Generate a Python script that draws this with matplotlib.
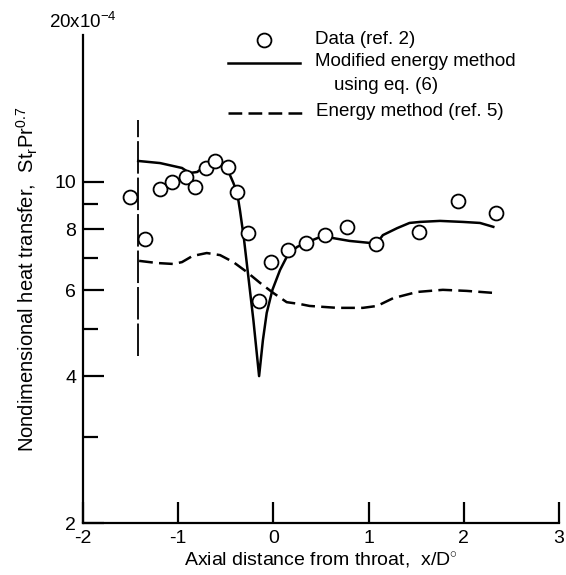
import matplotlib
matplotlib.use("Agg")
import matplotlib.pyplot as plt
from matplotlib.lines import Line2D

plt.rcParams['font.family'] = ['Liberation Sans', 'DejaVu Sans']
plt.rcParams['mathtext.fontset'] = 'custom'
plt.rcParams['mathtext.rm'] = 'Liberation Sans'
plt.rcParams['mathtext.it'] = 'Liberation Sans'

# Data (ref. 2)
data_x = [-1.51, -1.35, -1.19, -1.06, -0.92, -0.82, -0.71, -0.61, -0.48, -0.38, -0.27,
          -0.15, -0.02, 0.15, 0.34, 0.54, 0.77, 1.08, 1.53, 1.94, 2.34]
data_y = [9.31, 7.64, 9.67, 10.0, 10.23, 9.76, 10.67, 11.04, 10.73, 9.53, 7.86,
          5.70, 6.85, 7.25, 7.50, 7.78, 8.09, 7.46, 7.90, 9.14, 8.64]

# Modified energy method using eq. (6)
mod_x = [-1.42, -1.19, -0.96, -0.88, -0.80, -0.72, -0.61, -0.53, -0.47, -0.42, -0.38,
         -0.35, -0.31, -0.27, -0.21, -0.15, -0.11, -0.07, -0.01, 0.07, 0.15, 0.25,
         0.34, 0.44, 0.54, 0.63, 0.80, 1.01, 1.08, 1.15, 1.30, 1.43, 1.54, 1.75,
         1.99, 2.17, 2.31]
mod_y = [11.04, 10.93, 10.68, 10.43, 10.48, 10.78, 10.99, 10.88, 10.48, 9.95, 9.49,
         8.72, 7.67, 6.57, 5.21, 4.00, 4.74, 5.39, 6.01, 6.60, 7.08, 7.36,
         7.50, 7.64, 7.78, 7.67, 7.57, 7.50, 7.46, 7.78, 8.04, 8.24, 8.28, 8.32,
         8.28, 8.24, 8.09]

# Energy method (ref. 5)
en_x = [-1.41, -1.22, -1.05, -0.96, -0.85, -0.70, -0.56, -0.42, -0.28, -0.14, 0.00,
        0.14, 0.28, 0.38, 0.67, 0.94, 1.09, 1.26, 1.51, 1.78, 2.03, 2.33]
en_y = [6.89, 6.82, 6.79, 6.85, 7.05, 7.15, 7.08, 6.85, 6.54, 6.21, 5.92,
        5.67, 5.62, 5.57, 5.52, 5.52, 5.57, 5.78, 5.95, 6.01, 5.98, 5.92]

# Vertical reference line (nozzle entrance)
vline_x = [-1.42, -1.42]
vline_y = [4.4, 13.4]

x_ticks = [-2, -1, 0, 1, 2, 3]
y_major = [2, 4, 6, 8, 10]
y_minor = [3, 5, 7, 9]

fig = plt.figure(figsize=(5.66, 5.75), dpi=100)
ax = fig.add_axes([0.1466, 0.0904, 0.841, 0.8487])

ax.set_yscale('log')
ax.set_xlim(-2, 3)
ax.set_ylim(2, 20)

ax.plot(vline_x, vline_y, color='black', lw=1.3, linestyle=(0, (18, 2.2)))
ax.plot(mod_x, mod_y, color='black', lw=1.8, solid_joinstyle='round')
ax.plot(en_x, en_y, color='black', lw=1.8, linestyle=(0, (5.5, 2.5)))
ax.plot(data_x, data_y, linestyle='none', marker='o', ms=10, mfc='white',
        mec='black', mew=1.3, zorder=5)

for s in ['top', 'right']:
    ax.spines[s].set_visible(False)
for s in ['left', 'bottom']:
    ax.spines[s].set_linewidth(1.6)

ax.set_xticks(x_ticks)
ax.set_xticklabels([str(t) for t in x_ticks])
ax.set_yticks(y_major)
ax.set_yticklabels([str(t) for t in y_major])
ax.set_yticks(y_minor, minor=True)
ax.yaxis.set_minor_formatter(matplotlib.ticker.NullFormatter())
ax.tick_params(axis='both', which='major', direction='in', length=15, width=1.6,
               labelsize=14, pad=5)
ax.tick_params(axis='y', which='minor', direction='in', length=11, width=1.6)

ax.text(-2, 20.3, r'20x10$^{-4}$', ha='center', va='bottom', fontsize=13.5)

ax.set_xlabel(r'Axial distance from throat,  x/D$^{\circ}$', fontsize=14, labelpad=3)
ax.set_ylabel(r'Nondimensional heat transfer,  St$_{r}$Pr$^{0.7}$', fontsize=14.5, labelpad=10)

# Legend drawn manually
tf = fig.transFigure
W, H = 566, 575
def fx(px):
    return px / W
def fy(py):
    return 1 - py / H
fig.add_artist(Line2D([fx(264)], [fy(40)], marker='o', ms=10, mfc='white',
                      mec='black', mew=1.3, transform=tf))
fig.add_artist(Line2D([fx(228), fx(300)], [fy(63), fy(63)], color='black', lw=1.8,
                      transform=tf))
fig.add_artist(Line2D([fx(228), fx(303)], [fy(113), fy(113)], color='black', lw=1.8,
                      linestyle=(0, (5.5, 2.5)), transform=tf))
fig.text(fx(315), fy(40), 'Data (ref. 2)', fontsize=13.5, va='center', ha='left')
fig.text(fx(315), fy(62), 'Modified energy method', fontsize=13.5, va='center', ha='left')
fig.text(fx(334), fy(85), 'using eq. (6)', fontsize=13.5, va='center', ha='left')
fig.text(fx(316), fy(112), 'Energy method (ref. 5)', fontsize=13.5, va='center', ha='left')

fig.savefig('out.png', dpi=100)
